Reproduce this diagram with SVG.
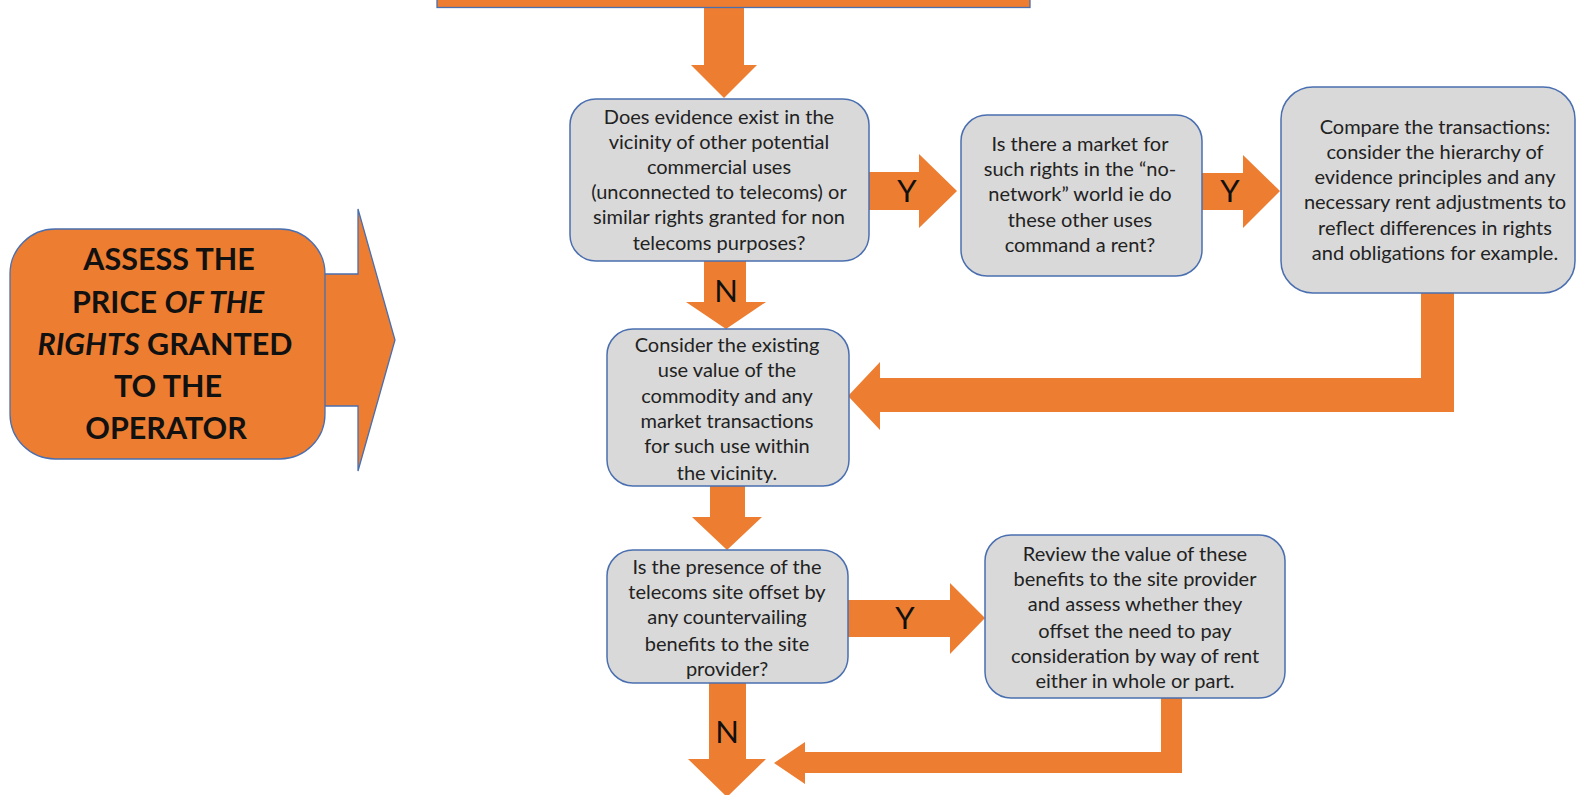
<svg xmlns="http://www.w3.org/2000/svg" width="1577" height="795" viewBox="0 0 1577 795">
<style>
.box{fill:#D9D9D9;stroke:#4A6FB0;stroke-width:1.5}
.arr{fill:#ED7D31;stroke:none}
.big{fill:#ED7D31;stroke:#4A6FB0;stroke-width:1.3}
.t{font-family:Lato,"Liberation Sans",sans-serif;font-size:20px;fill:#222;text-anchor:middle}
.lbl{font-family:Lato,"Liberation Sans",sans-serif;font-size:31px;fill:#111;text-anchor:middle}
.hd{font-family:Lato,"Liberation Sans",sans-serif;font-size:30.5px;font-weight:bold;fill:#111;text-anchor:middle}
</style>
<rect width="1577" height="795" fill="#fff"/>
<g id="connectors">
<polygon class="arr" points="704,7 744,7 744,65 757,65 724,98 691,65 704,65"/>
<polygon class="arr" points="869,172 919,172 919,154 957,191 919,228 919,210 869,210"/>
<polygon class="arr" points="1202,173 1243,173 1243,155 1280,191 1243,228 1243,210 1202,210"/>
<polygon class="arr" points="1421,293 1454,293 1454,412 880,412 880,430 848,396 880,362 880,378 1421,378"/>
<polygon class="arr" points="704,261 746,261 746,302 766,302 726,329 686,302 704,302"/>
<polygon class="arr" points="710,486 745,486 745,517 762,517 727,550 692,517 710,517"/>
<polygon class="arr" points="848,600 950,600 950,583 985,618 950,654 950,637 848,637"/>
<polygon class="arr" points="709,683 746,683 746,759 766,759 727,797 688,759 709,759"/>
<polygon class="arr" points="1161,698 1182,698 1182,773 805,773 805,784 774,763 805,742 805,752 1161,752"/>
<text class="lbl" x="907" y="202">Y</text>
<text class="lbl" x="1230" y="202">Y</text>
<text class="lbl" x="905" y="629">Y</text>
<text class="lbl" x="726" y="302">N</text>
<text class="lbl" x="727" y="743">N</text>
</g>
<g id="top">
<rect class="big" x="437" y="-5" width="593" height="12.5"/>
</g>
<g id="assess">
<polygon class="big" points="300,274 358,274 358,209 395,340 358,471 358,406 300,406"/>
<rect class="big" x="10" y="229" width="315" height="230" rx="45"/>
<text class="hd" x="169" y="270">ASSESS THE</text>
<text class="hd" x="168" y="313">PRICE <tspan font-style="italic">OF THE</tspan></text>
<text class="hd" x="165" y="355"><tspan font-style="italic">RIGHTS</tspan> GRANTED</text>
<text class="hd" x="168" y="397">TO THE</text>
<text class="hd" x="166" y="439">OPERATOR</text>
</g>
<g id="evidence">
<rect class="box" x="570" y="99" width="299" height="162" rx="26"/>
<text class="t" x="719" y="124">Does evidence exist in the</text>
<text class="t" x="719" y="149">vicinity of other potential</text>
<text class="t" x="719" y="174">commercial uses</text>
<text class="t" x="719" y="199">(unconnected to telecoms) or</text>
<text class="t" x="719" y="224">similar rights granted for non</text>
<text class="t" x="719" y="250">telecoms purposes?</text>
</g>
<g id="market">
<rect class="box" x="961" y="115" width="241" height="161" rx="26"/>
<text class="t" x="1080" y="151">Is there a market for</text>
<text class="t" x="1080" y="176">such rights in the “no-</text>
<text class="t" x="1080" y="201">network” world ie do</text>
<text class="t" x="1080" y="227">these other uses</text>
<text class="t" x="1080" y="252">command a rent?</text>
</g>
<g id="compare">
<rect class="box" x="1281" y="87" width="294" height="206" rx="32"/>
<text class="t" x="1435" y="134">Compare the transactions:</text>
<text class="t" x="1435" y="159">consider the hierarchy of</text>
<text class="t" x="1435" y="184">evidence principles and any</text>
<text class="t" x="1435" y="209">necessary rent adjustments to</text>
<text class="t" x="1435" y="235">reflect differences in rights</text>
<text class="t" x="1435" y="260">and obligations for example.</text>
</g>
<g id="existing">
<rect class="box" x="607" y="329" width="242" height="157" rx="26"/>
<text class="t" x="727" y="352">Consider the existing</text>
<text class="t" x="727" y="377">use value of the</text>
<text class="t" x="727" y="403">commodity and any</text>
<text class="t" x="727" y="428">market transactions</text>
<text class="t" x="727" y="453">for such use within</text>
<text class="t" x="727" y="480">the vicinity.</text>
</g>
<g id="presence">
<rect class="box" x="607" y="550" width="241" height="133" rx="26"/>
<text class="t" x="727" y="574">Is the presence of the</text>
<text class="t" x="727" y="599">telecoms site offset by</text>
<text class="t" x="727" y="624">any countervailing</text>
<text class="t" x="727" y="651">benefits to the site</text>
<text class="t" x="727" y="676">provider?</text>
</g>
<g id="review">
<rect class="box" x="985" y="535" width="300" height="163" rx="26"/>
<text class="t" x="1135" y="561">Review the value of these</text>
<text class="t" x="1135" y="586">benefits to the site provider</text>
<text class="t" x="1135" y="611">and assess whether they</text>
<text class="t" x="1135" y="638">offset the need to pay</text>
<text class="t" x="1135" y="663">consideration by way of rent</text>
<text class="t" x="1135" y="688">either in whole or part.</text>
</g>
</svg>
